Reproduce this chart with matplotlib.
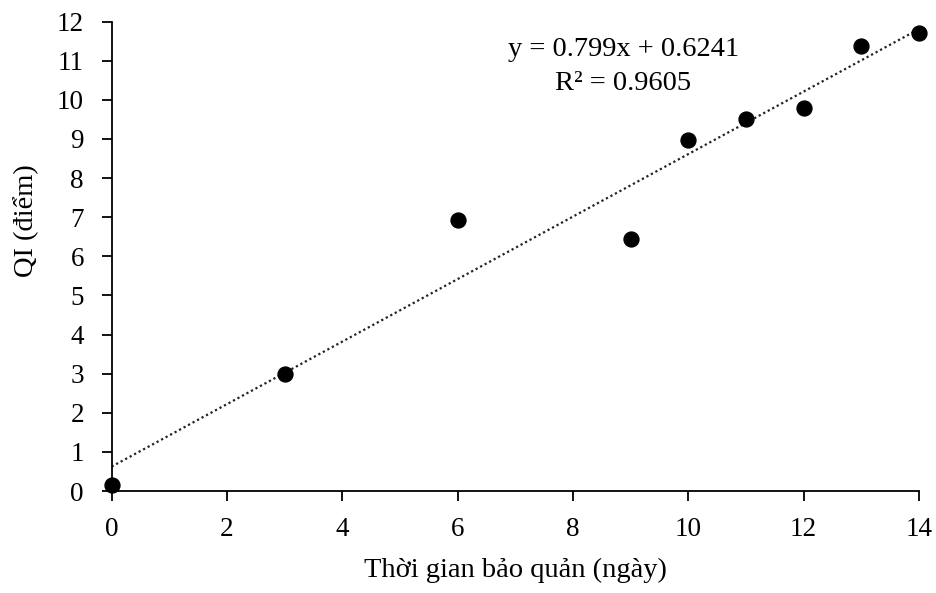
import numpy as np
import matplotlib.pyplot as plt

plt.rcParams['font.family'] = ['Liberation Serif', 'DejaVu Serif']

# data
days = [0, 3, 6, 9, 10, 11, 12, 13, 14]
qi = [0.15, 2.98, 6.93, 6.45, 8.98, 9.52, 9.8, 11.38, 11.7]
slope, intercept = 0.799, 0.6241
r2 = 0.9605

fig = plt.figure(figsize=(9.36, 5.93), dpi=100)
ax = fig.add_axes([0.1193, 0.172, 0.8625, 0.7915])

xs = np.array([0, 14])
ax.plot(xs, slope * xs + intercept, color='#222222', linestyle=(0, (1, 1.3)), linewidth=1.6, zorder=2)
ax.scatter(days, qi, s=115, color='black', zorder=3, clip_on=False)

ax.text(8.87, 10.85, "y = %.3fx + %.4f\nR² = %.4f" % (slope, intercept, r2),
        ha='center', va='center', fontsize=20.5, linespacing=1.45)

ax.set_xlim(0, 14)
ax.set_ylim(0, 12)
ax.set_xticks(range(0, 15, 2))
ax.set_yticks(range(0, 13))
ax.spines['top'].set_visible(False)
ax.spines['right'].set_visible(False)
for s in ['left', 'bottom']:
    ax.spines[s].set_linewidth(1.3)
ax.tick_params(direction='out', length=7, width=1.3, labelsize=19.5)
ax.tick_params(axis='x', pad=12)
ax.tick_params(axis='y', pad=13)

ax.set_xlabel("Thời gian bảo quản (ngày)", fontsize=20.5)
ax.set_ylabel("QI (điểm)", fontsize=20.5)
ax.xaxis.set_label_coords(0.5, -0.142)
ax.yaxis.set_label_coords(-0.09, 0.575)

fig.savefig("out.png", dpi=100)
